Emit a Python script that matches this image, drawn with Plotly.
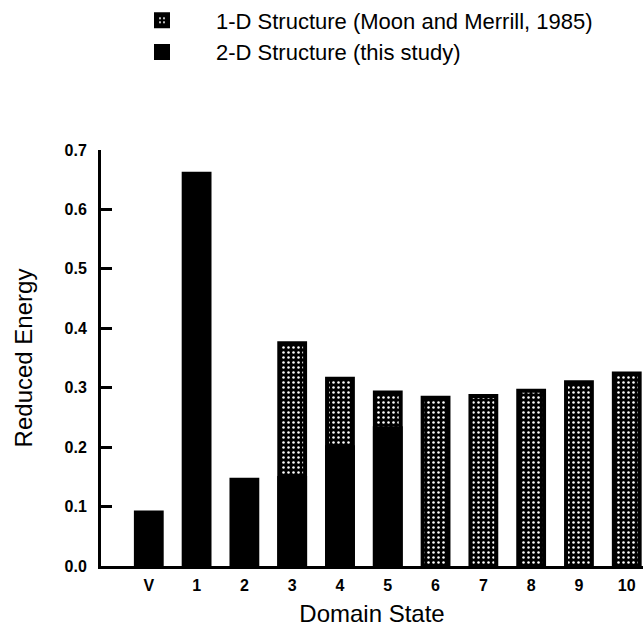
import plotly.graph_objects as go

categories = ["V", "1", "2", "3", "4", "5", "6", "7", "8", "9", "10"]
energy_1d = [None, None, None, 0.375, 0.315, 0.292, 0.283, 0.286, 0.295, 0.309, 0.324]
energy_2d = [0.090, 0.660, 0.145, 0.148, 0.200, 0.232, None, None, None, None, None]
y_ticks = [0.0, 0.1, 0.2, 0.3, 0.4, 0.5, 0.6, 0.7]

FONT = "Liberation Sans, Arial, Helvetica, sans-serif"
BAR_W = 0.54
EDGE = 4

fig = go.Figure()
fig.add_trace(go.Bar(
    x=categories, y=energy_1d, name="1-D Structure (Moon and Merrill, 1985)",
    width=BAR_W,
    marker=dict(color="black", line=dict(color="black", width=EDGE),
                pattern=dict(shape=".", bgcolor="black", fgcolor="white",
                             size=5, solidity=0.2, fillmode="replace")),
))
fig.add_trace(go.Bar(
    x=categories, y=energy_2d, name="2-D Structure (this study)",
    width=BAR_W,
    marker=dict(color="black", line=dict(color="black", width=EDGE)),
))

fig.update_layout(
    template="none",
    width=643, height=630,
    margin=dict(l=101, r=0, t=150, b=64, autoexpand=False),
    paper_bgcolor="white", plot_bgcolor="white",
    barmode="overlay",
    font=dict(family=FONT, color="black"),
    showlegend=True,
    legend=dict(x=(108 - 101) / 542, xref="paper", y=1 - 36.5 / 630, yref="container",
                xanchor="left", yanchor="middle", itemwidth=98,
                traceorder="normal",
                font=dict(size=22, family=FONT), bgcolor="rgba(0,0,0,0)"),
    xaxis=dict(
        type="category", range=[-1.0, 10.34],
        showline=True, linewidth=3, linecolor="black",
        ticks="", showgrid=False, zeroline=False, automargin=False,
        tickfont=dict(size=16, family=FONT, weight="bold"),
        ticklabelstandoff=3,
        title=dict(text="Domain State", font=dict(size=24, family=FONT), standoff=12),
    ),
    yaxis=dict(
        range=[0, 0.7], tickvals=y_ticks, tickformat=".1f",
        showline=True, linewidth=3, linecolor="black",
        ticks="inside", ticklen=11, tickwidth=3, tickcolor="black",
        showgrid=False, zeroline=False, automargin=False,
        tickfont=dict(size=16, family=FONT, weight="bold"),
        ticklabelstandoff=8,
        title=dict(text="Reduced Energy", font=dict(size=24, family=FONT), standoff=26),
    ),
)

fig.write_html(
    "out.html",
    config={"displayModeBar": False},
    post_script="document.body.style.margin='0';document.body.style.padding='0';",
)
